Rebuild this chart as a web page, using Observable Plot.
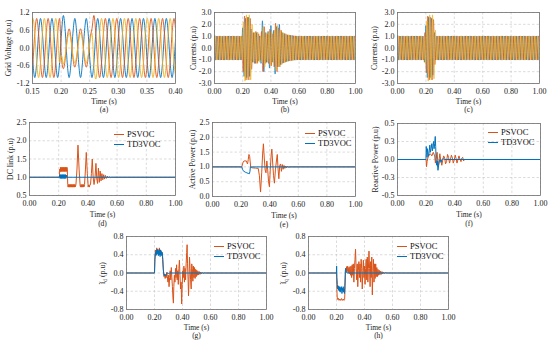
<!DOCTYPE html>
<html><head><meta charset="utf-8">
<script src="https://cdn.jsdelivr.net/npm/d3@7"></script>
<script src="https://cdn.jsdelivr.net/npm/@observablehq/plot@0.6"></script>
<style>
html,body{margin:0;padding:0;background:#fff;}
#root{position:relative;width:550px;height:344px;overflow:hidden;font-family:"Liberation Serif",serif;background:#fff;}
.legend{position:absolute;font-size:8.5px;line-height:10px;color:#111;white-space:nowrap;font-family:"Liberation Serif",serif;}
.legend i{display:inline-block;width:10px;height:0;border-top:1.6px solid;vertical-align:middle;margin-right:3px;position:relative;top:-1px;}
</style></head><body><div id="root"></div>
<script>
// ---------- tick values ----------
const aXTicks = [0.15, 0.20, 0.25, 0.30, 0.35, 0.40];
const tXTicks = [0, 0.2, 0.4, 0.6, 0.8, 1.0];
const aYTicks = [-1.2, -0.6, 0, 0.6, 1.2];
const bYTicks = [-3, -2, -1, 0, 1, 2, 3];
const dYTicks = [0.5, 1, 1.5, 2, 2.5];
const eYTicks = [0, 0.5, 1, 1.5, 2, 2.5];
const fYTicks = [-0.5, -0.25, 0, 0.25, 0.5];
const gYTicks = [-0.8, -0.4, 0, 0.4, 0.8];
const seriesNames = ["PSVOC", "TD3VOC"];

// ---------- (a) grid voltage, samples every 1/6 cycle from t=0.144 ----------
const aT0 = 0.144, aDt = 0.02 / 6;
const aBlue = [
 1,.5,-.5,-1,-.5,.5, 1,.5,-.5,-1,-.5,.5, 1,.5,-.5,-1,-.5,.5,
 1.1,.55,-.5,-1,-.5,.5, 1,.5,-.5,-1,-.5,.5, 1,.5,-.5,-1,-.5,.5,
 1,.5,-.5,-1,-.5,.5, 1,.5,-.5,-1,-.5,.5, 1,.5,-.5,-1,-.5,.5,
 1,.5,-.5,-1,-.5,.5, 1,.5,-.5,-1,-.5,.5, 1,.5,-.5,-1,-.5,.5,
 1,.5,-.5,-1,-.5,.5];
const aOrange = [
 -.5,-1,-.5,.5,1,.5, -.5,-1,-.5,.5,1,.5, -.5,-1,-.5,.5,1,-.33,
 -.7,-.35,.33,.65,.33,-.33, -.65,-.33,.33,.65,.33,-.33, -.65,-.33,.33,.65,1.1,.5,
 -.5,-1,-.5,.5,1,.5, -.5,-1,-.5,.5,1,.5, -.5,-1,-.5,.5,1,.5,
 -.5,-1,-.5,.5,1,.5, -.5,-1,-.5,.5,1,.5, -.5,-1,-.5,.5,1,.5,
 -.5,-1,-.5,.5,1,.5];
const aYellow = [
 -.5,.5,1,.5,-.5,-1, -.5,.5,1,.5,-.5,-1, -.5,.5,1,.5,-.5,-.25,
 -.55,-.25,.25,.5,.25,-.25, -.5,-.25,.25,.5,.25,-.25, -.5,-.25,.25,.5,-.6,-1.05,
 -.5,.5,1,.5,-.5,-1, -.5,.5,1,.5,-.5,-1, -.5,.5,1,.5,-.5,-1,
 -.5,.5,1,.5,-.5,-1, -.5,.5,1,.5,-.5,-1, -.5,.5,1,.5,-.5,-1,
 -.5,.5,1,.5,-.5,-1];

// ---------- (b) currents PSVOC, half-cycle peaks every 0.01 s ----------
const pkDt = 0.01, blueT0 = 0, orangeT0 = 0.00333, yellowT0 = 0.00667;
const bBlue = [
 1,-1,1,-1,1,-1,1,-1,1,-1, 1,-1,1,-1,1,-1,1,-1,1,-1,
 1.7,-2.4,2.5,-2.5,2.6,-2.4,1.6,-1.2,1.3,-1.3,1.3,-1.1,1.0,-1.3,2.3,-2.0,1.3,-1.2,1.4,-1.7,
 1.9,-1.2,1.5,-2.2,1.8,-1.6,2.0,-1.4,1.3,-1.25,1.2,-1.15,1.1,-1.1,1.07,-1.05,1.03,-1.02,
 1,-1,1,-1,1,-1,1,-1,1,-1, 1,-1,1,-1,1,-1,1,-1,1,-1, 1,-1,1,-1,1,-1,1,-1,1,-1, 1,-1,1,-1,1,-1,1,-1,1,-1, 1,-1,1];
const bOrange = [
 -1,1,-1,1,-1,1,-1,1,-1,1, -1,1,-1,1,-1,1,-1,1,-1,1,
 -2.0,2.7,-2.7,2.6,-2.7,2.5,-1.8,1.3,-1.3,1.4,-1.3,1.2,-1.0,1.4,-2.0,1.8,-1.3,1.2,-1.3,1.6,
 -1.5,1.2,-1.6,2.1,-2.0,1.7,-1.6,1.5,-1.3,1.25,-1.2,1.15,-1.12,1.1,-1.07,1.05,-1.03,1.02,
 -1,1,-1,1,-1,1,-1,1,-1,1, -1,1,-1,1,-1,1,-1,1,-1,1, -1,1,-1,1,-1,1,-1,1,-1,1, -1,1,-1,1,-1,1,-1,1,-1,1, -1,1,-1];
const bYellow = [
 1,-1,1,-1,1,-1,1,-1,1,-1, 1,-1,1,-1,1,-1,1,-1,1,-1,
 2.2,-2.8,2.8,-2.7,2.8,-2.7,2.0,-1.2,1.3,-1.3,1.35,-1.2,1.0,-1.2,1.8,-1.6,1.3,-1.2,1.3,-1.5,
 1.4,-1.2,1.5,-1.9,1.9,-1.6,1.5,-1.4,1.3,-1.25,1.2,-1.15,1.12,-1.1,1.07,-1.05,1.03,-1.02,
 1,-1,1,-1,1,-1,1,-1,1,-1, 1,-1,1,-1,1,-1,1,-1,1,-1, 1,-1,1,-1,1,-1,1,-1,1,-1, 1,-1,1,-1,1,-1,1,-1,1,-1, 1,-1,1];

// ---------- (c) currents TD3VOC ----------
const cBlue = [
 1,-1,1,-1,1,-1,1,-1,1,-1, 1,-1,1,-1,1,-1,1,-1,1,
 -1.2,1.9,-2.5,2.6,-2.5,2.5,-2.3,1.3,
 -1,1,-1,1,-1,1,-1,1,-1,1, -1,1,-1,1,-1,1,-1,1,-1,1, -1,1,-1,1,-1,1,-1,1,-1,1, -1,1,-1,1,-1,1,-1,1,-1,1,
 -1,1,-1,1,-1,1,-1,1,-1,1, -1,1,-1,1,-1,1,-1,1,-1,1, -1,1,-1,1,-1,1,-1,1,-1,1, -1,1,-1,1];
const cOrange = [
 -1,1,-1,1,-1,1,-1,1,-1,1, -1,1,-1,1,-1,1,-1,1,-1,
 1.3,-2.1,2.7,-2.7,2.6,-2.7,2.4,-1.4,
 1,-1,1,-1,1,-1,1,-1,1,-1, 1,-1,1,-1,1,-1,1,-1,1,-1, 1,-1,1,-1,1,-1,1,-1,1,-1, 1,-1,1,-1,1,-1,1,-1,1,-1,
 1,-1,1,-1,1,-1,1,-1,1,-1, 1,-1,1,-1,1,-1,1,-1,1,-1, 1,-1,1,-1,1,-1,1,-1,1,-1, 1,-1,1,-1];
const cYellow = [
 1,-1,1,-1,1,-1,1,-1,1,-1, 1,-1,1,-1,1,-1,1,-1,1,
 -1.3,2.3,-2.8,2.8,-2.7,2.8,-2.6,1.5,
 -1,1,-1,1,-1,1,-1,1,-1,1, -1,1,-1,1,-1,1,-1,1,-1,1, -1,1,-1,1,-1,1,-1,1,-1,1, -1,1,-1,1,-1,1,-1,1,-1,1,
 -1,1,-1,1,-1,1,-1,1,-1,1, -1,1,-1,1,-1,1,-1,1,-1,1, -1,1,-1,1,-1,1,-1,1,-1,1, -1,1,-1,1];

// ---------- (d) DC link [t, value] ----------
const dcPS = [[0,1],[0.205,1],[0.207,1.22],[0.2095,1.15],[0.212,1.27],[0.2145,1.16],[0.217,1.27],[0.2195,1.16],[0.222,1.27],[0.2245,1.16],[0.227,1.27],[0.2295,1.16],[0.232,1.27],[0.2345,1.16],[0.237,1.27],[0.2395,1.16],[0.242,1.27],[0.2445,1.16],[0.247,1.27],[0.2495,1.16],[0.252,1.27],[0.2545,1.16],[0.257,1.27],[0.259,1.2],[0.262,0.8],[0.2645,0.73],[0.267,0.8],[0.2695,0.73],[0.272,0.8],[0.2745,0.73],[0.277,0.8],[0.2795,0.73],[0.282,0.8],[0.2845,0.73],[0.287,0.8],[0.2895,0.73],[0.292,0.8],[0.2945,0.73],[0.297,0.8],[0.2995,0.73],[0.302,0.8],[0.3045,0.73],[0.307,0.8],[0.3095,0.73],[0.312,0.8],[0.3145,0.74],[0.318,0.8],[0.325,1.2],[0.332,1.88],[0.34,1.2],[0.347,0.76],[0.35,0.73],[0.353,0.8],[0.356,0.73],[0.359,0.8],[0.362,0.73],[0.365,0.8],[0.368,0.73],[0.371,0.8],[0.374,0.74],[0.377,0.8],[0.383,1.2],[0.389,1.68],[0.396,1.1],[0.402,0.74],[0.406,0.79],[0.41,0.73],[0.414,0.8],[0.418,0.8],[0.424,1.1],[0.43,1.5],[0.436,1.0],[0.442,0.8],[0.449,1.0],[0.455,1.38],[0.461,0.95],[0.466,0.83],[0.472,1.25],[0.478,0.86],[0.484,1.17],[0.49,0.9],[0.496,1.1],[0.502,0.93],[0.508,1.07],[0.514,0.95],[0.52,1.05],[0.527,0.97],[0.534,1.03],[0.541,0.98],[0.548,1.015],[0.555,0.99],[0.562,1.0],[1,1]];
const dcTD = [[0,1],[0.205,1],[0.207,1.06],[0.2095,0.97],[0.212,1.07],[0.2145,0.97],[0.217,1.07],[0.2195,0.97],[0.222,1.07],[0.2245,0.97],[0.227,1.07],[0.2295,0.97],[0.232,1.07],[0.2345,0.97],[0.237,1.07],[0.2395,0.97],[0.242,1.07],[0.2445,0.97],[0.247,1.07],[0.2495,0.97],[0.252,1.06],[0.255,1.0],[1,1]];

// ---------- (e) active power ----------
const pPS = [[0,1],[0.205,1],[0.21,1.1],[0.215,1.17],[0.22,1.2],[0.23,1.2],[0.235,1.21],[0.24,1.15],[0.245,1.1],[0.25,1.25],[0.255,1.42],[0.26,1.35],[0.263,1.2],[0.267,1.0],[0.275,0.97],[0.3,0.96],[0.32,0.95],[0.328,0.7],[0.336,0.15],[0.344,0.8],[0.35,1.4],[0.356,1.78],[0.362,1.3],[0.368,0.9],[0.374,0.8],[0.38,1.2],[0.386,0.9],[0.392,0.5],[0.398,0.33],[0.404,0.9],[0.41,1.4],[0.415,1.6],[0.42,1.2],[0.427,0.7],[0.433,0.45],[0.44,0.9],[0.447,1.2],[0.453,1.42],[0.459,0.9],[0.464,0.6],[0.47,1.05],[0.476,1.1],[0.482,0.85],[0.488,1.08],[0.494,0.92],[0.5,1.05],[0.506,0.95],[0.512,1.03],[0.518,0.97],[0.525,1.02],[0.532,0.985],[0.54,1.0],[1,1]];
const pTD = [[0,1],[0.205,1.0],[0.21,0.92],[0.215,0.87],[0.22,0.85],[0.23,0.82],[0.24,0.8],[0.25,0.78],[0.258,0.77],[0.262,0.85],[0.265,1.0],[1,1]];

// ---------- (f) reactive power ----------
const qPS = [[0,0],[0.2,0],[0.203,-0.1],[0.207,-0.03],[0.212,0.02],[0.22,0.06],[0.23,0.08],[0.24,0.05],[0.25,0.1],[0.26,0.05],[0.265,-0.05],[0.27,0.02],[0.277,0.1],[0.284,-0.1],[0.29,-0.02],[0.296,0.08],[0.303,-0.02],[0.31,-0.08],[0.317,0.0],[0.323,0.05],[0.33,0.02],[0.336,-0.06],[0.343,-0.03],[0.35,0.07],[0.357,0.03],[0.364,-0.05],[0.37,0.0],[0.377,0.06],[0.384,0.02],[0.39,-0.05],[0.397,0.0],[0.404,0.06],[0.41,0.01],[0.416,-0.05],[0.423,0.0],[0.43,0.05],[0.437,0.0],[0.444,-0.03],[0.45,0.02],[0.456,0.03],[0.462,-0.02],[0.468,0],[1,0]];
const qTD = [[0,0],[0.199,0],[0.201,0.18],[0.204,0.1],[0.207,0.03],[0.21,0.15],[0.214,0.08],[0.218,0.05],[0.222,0.12],[0.226,0.2],[0.23,0.1],[0.235,0.15],[0.24,0.22],[0.244,0.12],[0.248,0.18],[0.252,0.25],[0.256,0.15],[0.26,0.22],[0.264,0.32],[0.267,0.18],[0.27,0.0],[0.274,-0.08],[0.278,-0.02],[0.283,-0.15],[0.288,-0.08],[0.293,-0.02],[0.298,0.0],[0.305,-0.04],[0.31,0.0],[0.32,0.01],[0.33,0],[1,0]];

// ---------- (g) i_d ----------
const idPS = [[0,0],[0.2,0],[0.203,0.35],[0.207,0.5],[0.212,0.42],[0.216,0.55],[0.22,0.45],[0.225,0.52],[0.23,0.42],[0.235,0.55],[0.24,0.4],[0.245,0.5],[0.25,0.42],[0.255,0.45],[0.26,0.3],[0.264,0.05],[0.268,-0.08],[0.272,-0.02],[0.276,-0.12],[0.28,-0.04],[0.284,-0.1],[0.288,0.02],[0.292,-0.08],[0.296,-0.2],[0.3,-0.05],[0.304,-0.3],[0.308,-0.1],[0.312,0.05],[0.316,-0.15],[0.32,0.12],[0.324,-0.1],[0.328,-0.3],[0.332,-0.55],[0.335,-0.66],[0.338,-0.3],[0.342,-0.05],[0.346,-0.2],[0.35,0.1],[0.354,-0.1],[0.358,0.18],[0.362,-0.15],[0.366,0.05],[0.37,-0.25],[0.374,0.1],[0.378,0.28],[0.382,-0.05],[0.386,-0.35],[0.39,-0.2],[0.394,-0.68],[0.398,-0.25],[0.402,0.05],[0.406,-0.1],[0.41,0.15],[0.414,-0.2],[0.418,0.1],[0.422,-0.15],[0.426,0.2],[0.43,0.45],[0.433,0.62],[0.436,0.2],[0.44,-0.15],[0.443,-0.5],[0.446,-0.2],[0.45,0.35],[0.454,0.1],[0.458,-0.15],[0.462,-0.35],[0.466,0.2],[0.47,0.1],[0.474,-0.18],[0.478,0.15],[0.482,-0.1],[0.486,0.12],[0.49,-0.12],[0.494,0.08],[0.498,-0.08],[0.502,0.06],[0.506,-0.05],[0.51,0.04],[0.515,-0.04],[0.52,0.03],[0.525,-0.03],[0.53,0.02],[0.535,-0.02],[0.54,0.015],[0.548,-0.01],[0.556,0.005],[0.565,0],[1,0]];
const idTD = [[0,0],[0.2,0],[0.203,0.3],[0.207,0.45],[0.21,0.38],[0.213,0.5],[0.216,0.4],[0.219,0.52],[0.222,0.42],[0.225,0.5],[0.228,0.38],[0.231,0.48],[0.234,0.4],[0.237,0.52],[0.24,0.36],[0.243,0.5],[0.246,0.4],[0.249,0.47],[0.252,0.38],[0.255,0.45],[0.258,0.3],[0.262,0.1],[0.266,-0.02],[0.27,-0.06],[0.275,-0.03],[0.28,-0.06],[0.285,-0.02],[0.29,0],[0.3,-0.01],[0.31,0],[1,0]];

// ---------- (h) i_q ----------
const iqPS = [[0,0],[0.2,0],[0.203,-0.4],[0.206,-0.58],[0.212,-0.55],[0.218,-0.6],[0.224,-0.57],[0.23,-0.6],[0.236,-0.56],[0.242,-0.6],[0.248,-0.57],[0.254,-0.6],[0.258,-0.58],[0.262,-0.3],[0.265,0.1],[0.268,0.02],[0.272,0.14],[0.276,0.03],[0.28,0.15],[0.284,0.0],[0.288,0.12],[0.292,-0.02],[0.296,0.14],[0.3,-0.05],[0.304,0.15],[0.308,-0.1],[0.312,0.18],[0.316,-0.05],[0.32,0.2],[0.324,-0.2],[0.328,0.1],[0.332,0.3],[0.336,0.52],[0.34,0.1],[0.344,-0.15],[0.348,0.2],[0.352,-0.3],[0.356,0.05],[0.36,0.25],[0.364,-0.1],[0.368,0.2],[0.372,-0.2],[0.376,0.3],[0.38,0.1],[0.384,-0.35],[0.388,0.05],[0.392,0.28],[0.396,-0.1],[0.4,0.15],[0.404,-0.25],[0.408,0.1],[0.412,0.3],[0.416,-0.15],[0.42,0.35],[0.424,-0.2],[0.428,0.1],[0.432,0.48],[0.436,0.1],[0.44,-0.3],[0.444,0.25],[0.448,-0.1],[0.452,0.35],[0.456,-0.48],[0.46,0.05],[0.464,0.3],[0.468,-0.2],[0.472,0.2],[0.476,-0.12],[0.48,0.2],[0.484,-0.08],[0.488,0.12],[0.492,-0.08],[0.496,0.08],[0.5,-0.05],[0.505,0.06],[0.51,-0.04],[0.515,0.04],[0.52,-0.03],[0.525,0.03],[0.53,-0.02],[0.535,0.02],[0.54,-0.01],[0.55,0.01],[0.56,0],[1,0]];
const iqTD = [[0,0],[0.199,0],[0.201,0.15],[0.203,-0.1],[0.206,-0.25],[0.209,-0.35],[0.212,-0.28],[0.215,-0.38],[0.218,-0.3],[0.221,-0.4],[0.224,-0.3],[0.227,-0.42],[0.23,-0.32],[0.233,-0.38],[0.236,-0.3],[0.239,-0.45],[0.242,-0.33],[0.245,-0.4],[0.248,-0.3],[0.251,-0.42],[0.254,-0.35],[0.257,-0.45],[0.26,-0.2],[0.263,0.05],[0.266,0.1],[0.27,0.03],[0.275,0],[1,0]];

// ---------- build tables ----------
const BLUE = "#0072BD", ORANGE = "#D95319", YELLOW = "#EDB120";
const uni = (t0, dt, vals) => vals.map((v, i) => ({t: t0 + i * dt, v}));
const pairs = p => p.map(([t, v]) => ({t, v}));

const row1 = {tp: 4.5, dyT: 20.5, dyC: 28}, row2 = {tp: 5, dyT: 21.5, dyC: 30}, row3 = {tp: 5, dyT: 20.5, dyC: 28.5};
const panels = [
  {frame:[32,12,175,83], row:row1, xd:[0.15,0.40], xt:aXTicks, yd:[-1.2,1.2], yt:aYTicks, yl:"Grid Voltage (p.u)", ydx:-24, cap:"(a)", curve:"monotone-x", sw:0.9,
   series:[[uni(aT0,aDt,aBlue),BLUE],[uni(aT0,aDt,aOrange),ORANGE],[uni(aT0,aDt,aYellow),YELLOW]]},
  {frame:[214,12,355,83], row:row1, xd:[0,1], xt:tXTicks, yd:[-3,3], yt:bYTicks, yl:"Currents (p.u)", ydx:-21, cap:"(b)", curve:"monotone-x", sw:0.7,
   series:[[uni(blueT0,pkDt,bBlue),BLUE],[uni(orangeT0,pkDt,bOrange),ORANGE],[uni(yellowT0,pkDt,bYellow),YELLOW]]},
  {frame:[397,12,539,83], row:row1, xd:[0,1], xt:tXTicks, yd:[-3,3], yt:bYTicks, yl:"Currents (p.u)", ydx:-23, cap:"(c)", curve:"monotone-x", sw:0.7,
   series:[[uni(blueT0,pkDt,cBlue),BLUE],[uni(orangeT0,pkDt,cOrange),ORANGE],[uni(yellowT0,pkDt,cYellow),YELLOW]]},
  {frame:[29,122,175,195], row:row2, xd:[0,1], xt:tXTicks, yd:[0.5,2.5], yt:dYTicks, yl:"DC link (p.u)", ydx:-19, cap:"(d)", curve:"linear", sw:1,
   series:[[pairs(dcPS),ORANGE],[pairs(dcTD),BLUE]], legend:[114,129]},
  {frame:[212,122,355,196], row:row2, xd:[0,1], xt:tXTicks, yd:[0,2.5], yt:eYTicks, yl:"Active Power (p.u)", ydx:-20, cap:"(e)", curve:"linear", sw:1,
   series:[[pairs(pPS),ORANGE],[pairs(pTD),BLUE]], legend:[305,128]},
  {frame:[397,123,540,195], row:row2, xd:[0,1], xt:tXTicks, yd:[-0.5,0.5], yt:fYTicks, yl:"Reactive Power (p.u)", ydx:-22, cap:"(f)", curve:"linear", sw:1,
   series:[[pairs(qPS),ORANGE],[pairs(qTD),BLUE]], legend:[488,127]},
  {frame:[126,236,266,309], row:row3, xd:[0,1], xt:tXTicks, yd:[-0.8,0.8], yt:gYTicks, yl:"ĩd (p.u)", sub:["ĩ","d"," (p.u)"], ydx:-24, cap:"(g)", curve:"linear", sw:1,
   series:[[pairs(idPS),ORANGE],[pairs(idTD),BLUE]], legend:[214,241]},
  {frame:[308,236,448,309], row:row3, xd:[0,1], xt:tXTicks, yd:[-0.8,0.8], yt:gYTicks, yl:"ĩq (p.u)", sub:["ĩ","q"," (p.u)"], ydx:-25, cap:"(h)", curve:"linear", sw:1,
   series:[[pairs(iqPS),ORANGE],[pairs(iqTD),BLUE]], legend:[397,241]}
];

const root = document.getElementById("root");
const gridStyle = {stroke:"#c4c4c4", strokeOpacity:1, strokeWidth:0.6, strokeDasharray:"2.5,2"};

for (const p of panels) {
  const [L, T, R, B] = p.frame;
  const mL = 34, mR = 4, mT = 4, mB = 33;
  const svg = Plot.plot({
    width: mL + (R - L) + mR, height: mT + (B - T) + mB,
    marginLeft: mL, marginRight: mR, marginTop: mT, marginBottom: mB,
    x: {domain: p.xd}, y: {domain: p.yd},
    style: {fontFamily: "Liberation Serif, serif", fontSize: "8px", background: "none", color: "#1a1a1a", overflow: "visible"},
    marks: [
      Plot.gridX(p.xt, gridStyle),
      Plot.gridY(p.yt, gridStyle),
      ...p.series.map(([data, color]) => Plot.line(data, {x: "t", y: "v", stroke: color, strokeWidth: p.sw, curve: p.curve, clip: true})),
      Plot.frame({stroke: "#6e6e6e", strokeWidth: 0.8}),
      Plot.axisX(p.xt, {tickSize: 0, tickPadding: p.row.tp, tickFormat: d => d.toFixed(2), label: null}),
      Plot.axisY(p.yt, {tickSize: 0, tickPadding: 3, tickFormat: d => d.toFixed(1), label: null}),
      Plot.text(["Time (s)"], {text: d => d, frameAnchor: "bottom", dy: p.row.dyT, fontSize: 7.5}),
      Plot.text([p.cap], {text: d => d, frameAnchor: "bottom", dy: p.row.dyC, fontSize: 7.5}),
      Plot.text([p.yl], {text: d => d, frameAnchor: "left", dx: p.ydx, rotate: -90, textAnchor: "middle", lineAnchor: "middle", fontSize: 7.8})
    ]
  });
  svg.style.position = "absolute";
  svg.style.left = (L - mL) + "px";
  svg.style.top = (T - mT) + "px";
  svg.style.overflow = "visible";
  svg.style.maxWidth = "none";
  if (p.sub) {
    d3.select(svg).selectAll("text").filter(function () { return this.textContent === p.yl; }).each(function () {
      const t = d3.select(this);
      t.text(null);
      t.append("tspan").text(p.sub[0]);
      t.append("tspan").attr("dy", 1.8).attr("font-size", 5.5).text(p.sub[1]);
      t.append("tspan").attr("dy", -1.8).text(p.sub[2]);
    });
  }
  root.appendChild(svg);
  if (p.legend) {
    const lg = document.createElement("div");
    lg.className = "legend";
    lg.style.left = p.legend[0] + "px";
    lg.style.top = p.legend[1] + "px";
    lg.innerHTML = `<div><i style="border-color:${ORANGE}"></i>${seriesNames[0]}</div><div><i style="border-color:${BLUE}"></i>${seriesNames[1]}</div>`;
    root.appendChild(lg);
  }
}
</script>
</body></html>
